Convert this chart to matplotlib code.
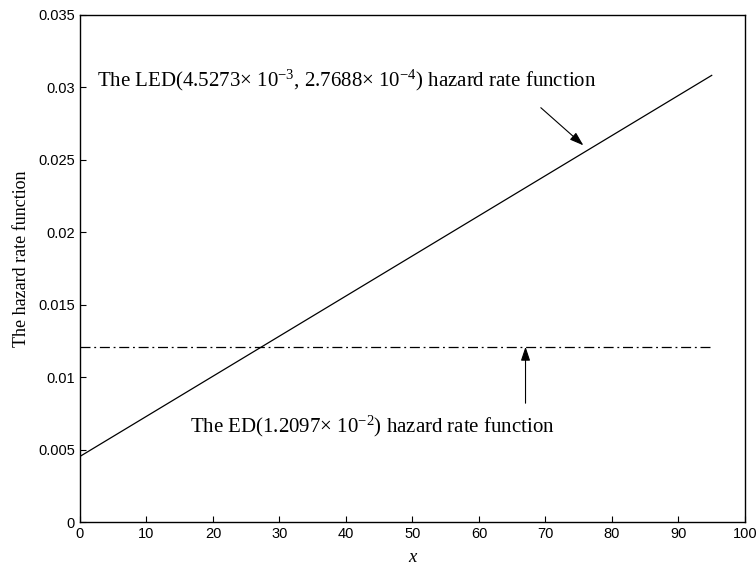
import matplotlib
matplotlib.use('Agg')
import matplotlib.pyplot as plt

# LED hazard rate: straight line, endpoints
led_x = [0, 95]
led_y = [0.0045273, 0.030831]
# ED hazard rate: constant
ed_x = [0, 95]
ed_y = [0.012097, 0.012097]

xticks = list(range(0, 101, 10))
yticks = [0, 0.005, 0.01, 0.015, 0.02, 0.025, 0.03, 0.035]
ytick_labels = ['0', '0.005', '0.01', '0.015', '0.02', '0.025', '0.03', '0.035']

serif = ['Liberation Serif', 'DejaVu Serif']
sans = ['Liberation Sans', 'DejaVu Sans']
plt.rcParams['mathtext.fontset'] = 'custom'
plt.rcParams['mathtext.rm'] = 'Liberation Serif'
plt.rcParams['mathtext.it'] = 'Liberation Serif:italic'

fig = plt.figure(figsize=(7.56, 5.65), dpi=100)
ax = fig.add_axes([0.1058, 0.0761, 0.8796, 0.8974])

ax.plot(led_x, led_y, color='black', lw=0.9)
ax.plot(ed_x, ed_y, color='black', lw=0.9, linestyle=(0, (8, 3, 1.5, 3)))

ax.set_xlim(0, 100)
ax.set_ylim(0, 0.035)
ax.set_xticks(xticks)
ax.set_yticks(yticks)
ax.set_yticklabels(ytick_labels)
ax.tick_params(direction='in', length=4, width=0.8, labelsize=10.5)
for lab in ax.get_xticklabels() + ax.get_yticklabels():
    lab.set_family(sans)
for s in ax.spines.values():
    s.set_linewidth(1.0)

ax.set_xlabel('x', family=serif, style='italic', fontsize=13.5, labelpad=6)
ax.set_ylabel('The hazard rate function', family=serif, fontsize=13, labelpad=6)
ax.yaxis.set_label_coords(-0.075, 0.52)

ax.text(2.6, 0.0305,
        r'The LED(4.5273$\times$ 10$^{-3}$, 2.7688$\times$ 10$^{-4}$) hazard rate function',
        family=serif, fontsize=15, va='center', ha='left')
ax.text(16.5, 0.0066,
        r'The ED(1.2097$\times$ 10$^{-2}$) hazard rate function',
        family=serif, fontsize=15, va='center', ha='left')

ax.annotate('', xy=(75.7, 0.0260), xytext=(69.3, 0.0286),
            arrowprops=dict(arrowstyle='-|>,head_length=0.6,head_width=0.2',
                            color='black', lw=0.8,
                            mutation_scale=14, shrinkA=0, shrinkB=0))
ax.annotate('', xy=(67.0, 0.0121), xytext=(67.0, 0.0082),
            arrowprops=dict(arrowstyle='-|>,head_length=0.6,head_width=0.2',
                            color='black', lw=0.8,
                            mutation_scale=14, shrinkA=0, shrinkB=0))

fig.savefig('out.png', dpi=100)
